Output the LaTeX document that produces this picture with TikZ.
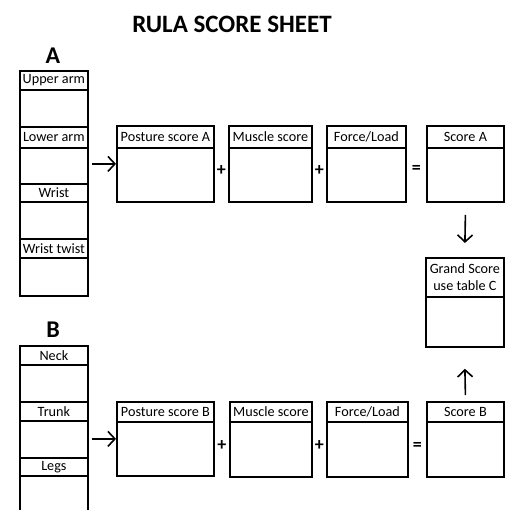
\documentclass[tikz,border=0pt]{standalone}
\usepackage{fontspec}
\setmainfont{Carlito}
\usetikzlibrary{arrows.meta,calc}
\tikzset{
  cell/.style={draw, line width=1.8pt, rectangle, inner sep=0pt, anchor=north west,
    font=\fontsize{14.2}{16}\selectfont, align=center},
  arr/.style={line width=1.6pt, -{Straight Barb[length=7pt,width=15pt,line width=1.6pt]}},
  op/.style={inner sep=0pt, font=\bfseries\fontsize{18}{18}\selectfont},
  big/.style={inner sep=0pt, font=\bfseries\fontsize{24}{26}\selectfont}
}
\begin{document}
\begin{tikzpicture}[x=1pt,y=-1pt]
\useasboundingbox (0,0) rectangle (505,510);
\clip (0,0) rectangle (505,510);
% title and letters
\node[big, font=\bfseries\fontsize{25}{28}\selectfont] (title) at (232,24) {RULA SCORE SHEET};
\node[big] (lA) at (53,56) {A};
\node[big] (lB) at (53,330) {B};
% column A
\node[cell, minimum width=68pt, minimum height=19pt] (ua) at (19,70) {Upper arm};
\node[cell, minimum width=68pt, minimum height=37pt] (ua2) at (19,89) {};
\node[cell, minimum width=68pt, minimum height=21pt] (la) at (19,126) {Lower arm};
\node[cell, minimum width=68pt, minimum height=36pt] (la2) at (19,147) {};
\node[cell, minimum width=68pt, minimum height=18pt] (wr) at (19,183) {Wrist};
\node[cell, minimum width=68pt, minimum height=37pt] (wr2) at (19,201) {};
\node[cell, minimum width=68pt, minimum height=19pt] (wt) at (19,238) {Wrist twist};
\node[cell, minimum width=68pt, minimum height=38pt] (wt2) at (19,257) {};
% column B
\node[cell, minimum width=68pt, minimum height=19pt] (nk) at (19,345) {Neck};
\node[cell, minimum width=68pt, minimum height=37pt] (nk2) at (19,364) {};
\node[cell, minimum width=68pt, minimum height=19pt] (tr) at (19,401) {Trunk};
\node[cell, minimum width=68pt, minimum height=37pt] (tr2) at (19,420) {};
\node[cell, minimum width=68pt, minimum height=18pt] (lg) at (19,457) {Legs};
\node[cell, minimum width=68pt, minimum height=70pt] (lg2) at (19,475) {};
% row A boxes
\node[cell, minimum width=97pt, minimum height=76pt] (pA) at (116,125) {};
\node[cell, minimum width=97pt, minimum height=22pt] (pAh) at (116,125) {Posture score A};
\node[cell, minimum width=83pt, minimum height=76pt] (mA) at (228,125) {};
\node[cell, minimum width=83pt, minimum height=22pt] (mAh) at (228,125) {Muscle score};
\node[cell, minimum width=79pt, minimum height=76pt] (fA) at (326,125) {};
\node[cell, minimum width=79pt, minimum height=22pt] (fAh) at (326,125) {Force/Load};
\node[cell, minimum width=77pt, minimum height=76pt] (sA) at (426,125) {};
\node[cell, minimum width=77pt, minimum height=22pt] (sAh) at (426,125) {Score A};
% grand score
\node[cell, minimum width=78pt, minimum height=89pt] (gs) at (425,257) {};
\node[cell, minimum width=78pt, minimum height=39pt] (gsh) at (425,257) {Grand Score\\[1pt]use table C};
% row B boxes
\node[cell, minimum width=97pt, minimum height=74pt] (pB) at (116,401) {};
\node[cell, minimum width=97pt, minimum height=20pt] (pBh) at (116,401) {Posture score B};
\node[cell, minimum width=82pt, minimum height=75pt] (mB) at (229,401) {};
\node[cell, minimum width=82pt, minimum height=20pt] (mBh) at (229,401) {Muscle score};
\node[cell, minimum width=81pt, minimum height=75pt] (fB) at (326,401) {};
\node[cell, minimum width=81pt, minimum height=20pt] (fBh) at (326,401) {Force/Load};
\node[cell, minimum width=77pt, minimum height=75pt] (sB) at (426,401) {};
\node[cell, minimum width=77pt, minimum height=20pt] (sBh) at (426,401) {Score B};
% operators
\node[op] (p1) at ($(pA.east)!0.5!(mA.west)+(0,7)$) {+};
\node[op] (p2) at ($(mA.east)!0.5!(fA.west)+(0,7)$) {+};
\node[op] (e1) at ($(fA.east)!0.5!(sA.west)+(0,6)$) {=};
\node[op] (p3) at ($(pB.east)!0.5!(mB.west)+(0,6)$) {+};
\node[op] (p4) at ($(mB.east)!0.5!(fB.west)+(0,6)$) {+};
\node[op] (e2) at ($(fB.east)!0.5!(sB.west)+(0,7)$) {=};
% arrows
\draw[arr] ([xshift=3pt]la2.east |- pA.west) -- (pA.west);
\draw[arr] ([xshift=3pt]tr2.east |- pB.west) -- (pB.west);
\draw[arr] ([yshift=-12pt]sA.south) -- ([yshift=14pt]gsh.north);
\draw[arr] ([yshift=6pt]sB.north) -- ([yshift=-21pt]gs.south);
\end{tikzpicture}
\end{document}
